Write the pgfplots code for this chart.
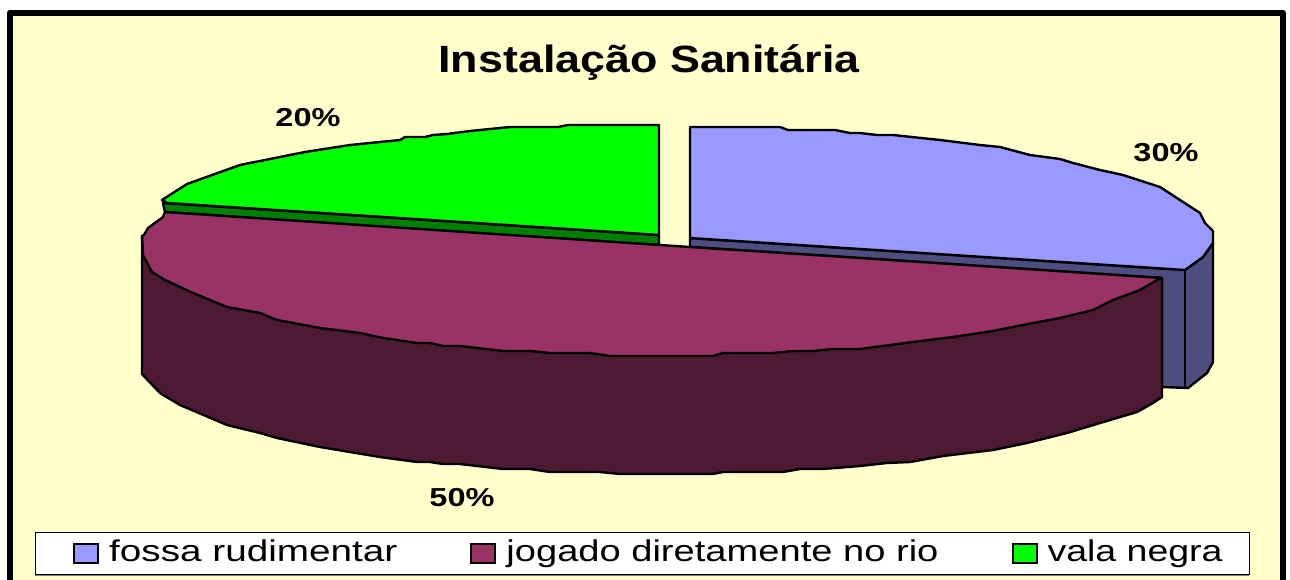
\documentclass[border=0pt]{standalone}
\usepackage{fontspec}
\setmainfont{Liberation Sans}
\usepackage{pgfplots}
\usepackage{graphicx}
\pgfplotsset{compat=1.18}
\definecolor{fundo}{HTML}{FFFFCC}
\definecolor{azul}{HTML}{9999FF}
\definecolor{azulesc}{HTML}{4D4D80}
\definecolor{vinho}{HTML}{993366}
\definecolor{vinhoesc}{HTML}{4D1A33}
\definecolor{verde}{HTML}{00FF00}
\definecolor{verdeesc}{HTML}{008000}
\newcommand{\leg}[2]{\scalebox{#1}[1]{\fontsize{30}{30}\selectfont #2}}
\newcommand{\pct}[1]{\scalebox{1.25}[1]{\fontsize{26}{26}\selectfont\bfseries #1}}
\pgfplotsset{
  fatia/.style={draw=black, line width=2.4pt, line join=round, forget plot},
  quadrado/.style={legend image code/.code={
    \path[##1] (0pt,-11pt) -- (24pt,-11pt) -- (24pt,8pt) -- (0pt,8pt) -- cycle;}},
}
\begin{document}
\begin{tikzpicture}
\begin{axis}[
  scale only axis, width=1290pt, height=579pt,
  xmin=0, xmax=1290, ymin=0, ymax=579, y dir=reverse,
  hide axis,
  legend columns=3, legend cell align=left,
  legend style={at={(axis cs:73,540)}, anchor=north west, draw=none, fill=none,
    inner sep=0pt, nodes={inner sep=0pt},
    /tikz/every odd column/.style={column sep=10pt},
    /tikz/every even column/.style={column sep=73pt}},
]
% pagina inteira
\addplot[draw=white, line width=0pt, fill=white, forget plot]
  coordinates {(0,0) (1290,0) (1290,579) (0,579)} --cycle;
% fundo e moldura
\addplot[draw=black, line width=6pt, fill=fundo, line join=round, forget plot]
  coordinates {(10,12.5) (1282.5,12.5) (1282.5,620) (10,620)} --cycle;
% caixa da legenda
\addplot[draw=gray, line width=1.5pt, forget plot] coordinates {(35,575) (1249,575)};
\addplot[draw=black, line width=1pt, fill=white, forget plot]
  coordinates {(35,532) (1249,532) (1249,574) (35,574)} --cycle;

% fossa rudimentar, lateral
\addplot[fatia, fill=azulesc] coordinates {
  (690,238) (1185,270) (1203,257) (1213,243) (1213,362) (1207,373) (1188,388)
  (1162,387) (1162,278) (860,258) (690,247)} --cycle;
\addplot[fatia] coordinates {(1185,270) (1185,388)};
% fossa rudimentar, topo
\addplot[fatia, fill=azul] coordinates {
  (690,127) (780,127) (788,130) (835,130) (850,133) (860,133) (877,135) (893,135)
  (940,140) (980,145) (1000,147) (1030,155) (1060,159) (1073,163) (1100,170)
  (1123,175) (1160,187) (1180,200) (1200,213) (1205,223) (1213,231) (1213,243)
  (1203,257) (1185,270) (690,238)} --cycle;

% vala negra, lateral
\addplot[fatia, fill=verdeesc] coordinates {
  (163,203) (659,235) (659,245) (430,230) (165,212)} --cycle;
% vala negra, topo
\addplot[fatia, fill=verde] coordinates {
  (162,200) (187,184) (240,165) (280,157) (305,152) (350,145) (400,140) (405,137)
  (425,137) (433,135) (447,134) (470,131) (510,127) (558,127) (568,125) (659,125)
  (659,235) (430,220) (167,203)} --cycle;

% jogado diretamente no rio, lateral
\addplot[fatia, fill=vinhoesc] coordinates {
  (142,236) (142,374) (160,393) (180,405) (227,425) (260,433) (277,438) (320,447)
  (380,457) (417,462) (430,462) (443,464) (460,464) (503,469) (530,469) (550,472)
  (600,472) (620,474) (713,474) (723,472) (783,472) (800,469) (823,469) (860,466)
  (887,463) (910,462) (943,456) (993,450) (1027,443) (1067,433) (1100,423)
  (1137,412) (1153,403) (1162,397) (1162,278)} --cycle;
% jogado diretamente no rio, topo
\addplot[fatia, fill=vinho] coordinates {
  (165,212) (163,217) (148,228) (144,235) (142,236) (143,255) (152,272) (165,280)
  (193,293) (227,307) (260,313) (277,320) (320,328) (360,333) (383,338) (417,343)
  (430,343) (443,346) (460,346) (503,351) (530,351) (550,353) (590,353) (610,356)
  (713,356) (723,353) (773,353) (793,351) (813,351) (833,349) (860,349) (913,342)
  (953,337) (993,331) (1033,323) (1060,318) (1093,310) (1113,300) (1140,290)
  (1157,280) (1162,278) (860,258) (690,247) (660,245)} --cycle;

% legenda
\addlegendimage{quadrado, draw=black, line width=2pt, fill=azul}
\addlegendentry{\leg{1.29}{fossa rudimentar}}
\addlegendimage{quadrado, draw=black, line width=2pt, fill=vinho}
\addlegendentry{\leg{1.27}{jogado diretamente no rio}}
\addlegendimage{quadrado, draw=black, line width=2pt, fill=verde}
\addlegendentry{\leg{1.25}{vala negra}}

% textos
\node[anchor=base, inner sep=0pt] at (axis cs:649,72)
  {\scalebox{1.18}[1]{\fontsize{38}{38}\selectfont\bfseries Instalação Sanitária}};
\node[anchor=base, inner sep=0pt] at (axis cs:308,126) {\pct{20\%}};
\node[anchor=base, inner sep=0pt] at (axis cs:1166,161) {\pct{30\%}};
\node[anchor=base, inner sep=0pt] at (axis cs:462,506) {\pct{50\%}};
\end{axis}
\end{tikzpicture}
\end{document}
